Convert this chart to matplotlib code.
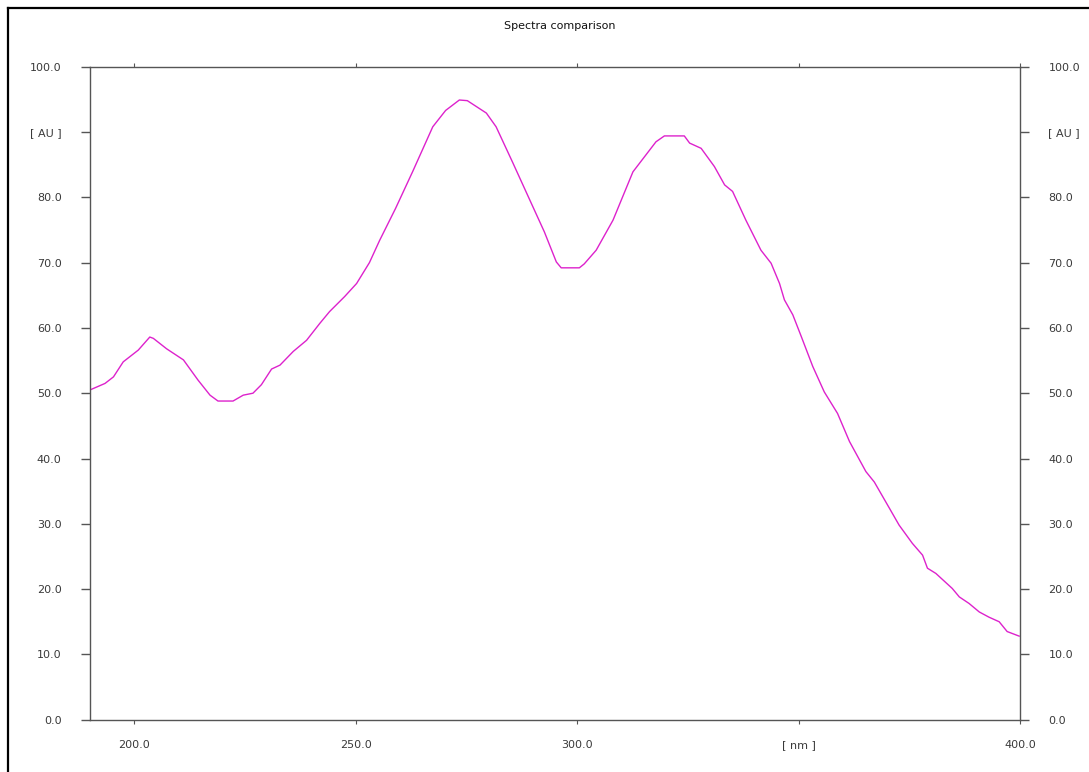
import matplotlib
matplotlib.use("Agg")
import matplotlib.pyplot as plt
from matplotlib.lines import Line2D

# spectrum
wavelength = [190.0, 193.4, 195.3, 197.5, 200.9, 203.5, 204.3, 207.3, 211.1, 214.4,
              217.1, 218.9, 222.3, 224.6, 226.8, 228.7, 231.0, 232.9, 235.9, 238.9,
              241.9, 244.1, 247.5, 250.2, 253.1, 255.4, 259.0, 262.9, 267.4, 270.3,
              273.4, 275.2, 279.5, 281.7, 285.4, 289.3, 292.6, 295.3, 296.4, 300.5,
              301.6, 304.3, 308.1, 312.6, 317.8, 319.7, 324.2, 325.4, 328.0, 331.0,
              333.3, 335.1, 338.1, 341.5, 343.8, 345.7, 346.8, 348.7, 350.6, 353.2,
              355.8, 358.8, 361.5, 365.2, 367.1, 370.5, 372.7, 375.7, 378.0, 379.1,
              381.0, 384.7, 386.3, 388.5, 390.8, 393.0, 395.3, 397.1, 399.8]
absorbance = [50.5, 51.5, 52.5, 54.8, 56.6, 58.6, 58.4, 56.8, 55.1, 52.0,
              49.7, 48.8, 48.8, 49.7, 50.0, 51.3, 53.7, 54.3, 56.4, 58.1,
              60.7, 62.5, 64.8, 66.8, 70.0, 73.4, 78.3, 84.0, 90.8, 93.3,
              94.9, 94.8, 92.9, 90.8, 85.4, 79.6, 74.7, 70.1, 69.2, 69.2,
              69.8, 71.9, 76.5, 83.9, 88.5, 89.4, 89.4, 88.3, 87.5, 84.7,
              81.9, 80.9, 76.5, 71.9, 69.9, 66.8, 64.3, 62.0, 58.7, 54.1,
              50.2, 46.9, 42.6, 38.0, 36.4, 32.4, 29.8, 27.0, 25.2, 23.2,
              22.4, 20.1, 18.8, 17.8, 16.5, 15.7, 15.0, 13.5, 12.8]

x_ticks = [200, 250, 300, 350, 400]
x_tick_labels = ["200.0", "250.0", "300.0", "[ nm ]", "400.0"]
y_ticks = [0, 10, 20, 30, 40, 50, 60, 70, 80, 90, 100]
y_tick_labels = ["0.0", "10.0", "20.0", "30.0", "40.0", "50.0", "60.0",
                 "70.0", "80.0", "[ AU ]", "100.0"]

W, H = 1089, 772
plt.rcParams['font.family'] = ['DejaVu Sans']

fig = plt.figure(figsize=(W / 100, H / 100), dpi=100)
ax = fig.add_axes([90 / W, (H - 719.7) / H, 930 / W, 653 / H])

ax.plot(wavelength, absorbance, color='#dd22cc', lw=1.0)

ax.set_xlim(190, 400)
ax.set_ylim(0, 100)
ax.set_xticks(x_ticks)
ax.set_xticklabels(x_tick_labels)
ax.set_yticks(y_ticks)
ax.set_yticklabels(y_tick_labels)

spine_col = '#555555'
for s in ax.spines.values():
    s.set_color(spine_col)
    s.set_linewidth(1.0)

ax.tick_params(axis='y', left=True, right=True, labelleft=True, labelright=True,
               direction='out', length=6.5, width=1.0, color=spine_col,
               pad=14, labelsize=8, labelcolor='#3a3a3a')
ax.tick_params(axis='x', top=True, bottom=True, labeltop=False, labelbottom=True,
               direction='out', length=3, width=0.8, color=spine_col,
               pad=11.5, labelsize=8, labelcolor='#3a3a3a')

fig.text(560 / W, 1 - 26 / H, "Spectra comparison", ha='center', va='center',
         fontsize=8, color='#111111')

# outer frame (left and top edges only)
fig.add_artist(Line2D([7.5 / W, 7.5 / W], [0, 1 - 7.7 / H], transform=fig.transFigure,
                      color='black', lw=1.6))
fig.add_artist(Line2D([7.5 / W, 1], [1 - 7.7 / H, 1 - 7.7 / H], transform=fig.transFigure,
                      color='black', lw=1.6))

fig.savefig("out.png", dpi=100)
